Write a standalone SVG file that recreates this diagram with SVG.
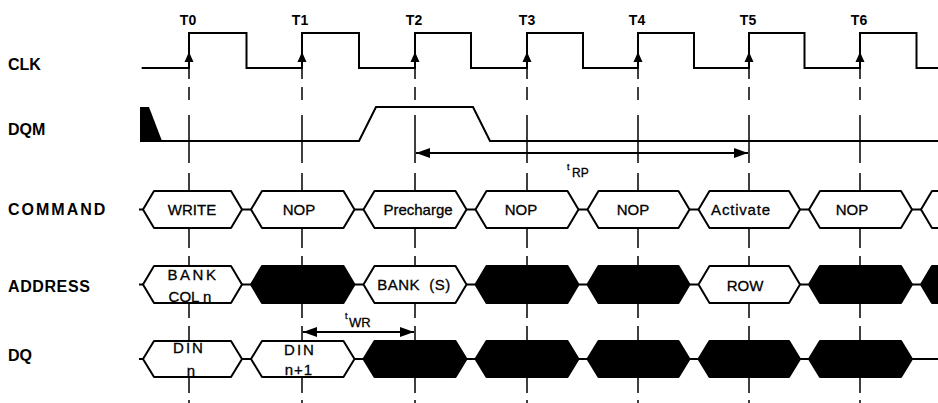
<svg xmlns="http://www.w3.org/2000/svg" xmlns:xlink="http://www.w3.org/1999/xlink" width="938" height="403" viewBox="0 0 938 403">
<style>
.lbl{font-family:"Liberation Sans",Arial,sans-serif;font-weight:bold;font-size:16px;fill:#000}
.tl{font-family:"Liberation Sans",Arial,sans-serif;font-weight:bold;font-size:14px;fill:#000;text-anchor:middle}
.tx{font-family:"Liberation Sans",Arial,sans-serif;font-size:15px;fill:#000;stroke:#000;stroke-width:0.3;text-anchor:middle}
.sm{font-family:"Liberation Sans",Arial,sans-serif;fill:#000;stroke:#000;stroke-width:0.3}
.sig{fill:none;stroke:#000;stroke-width:2}
.hex{fill:#fff;stroke:#000;stroke-width:2;stroke-linejoin:round}
.blk{fill:#000;stroke:#000;stroke-width:2;stroke-linejoin:round}
.grid{fill:none;stroke:#000;stroke-width:1.5}
.arr{fill:none;stroke:#000;stroke-width:1.8}
</style>
<defs>
<path id="vline" class="grid" d="M0,68V79M0,87V100M0,115V163M0,173V191M0,228V248M0,256V266M0,303V318M0,326V341M0,377V393M0,400V403"/>
<polygon id="edge" points="0,52 -4.5,62 4.5,62" fill="#000"/>
<marker id="ah" viewBox="0 0 14 10" refX="14" refY="5" markerWidth="14" markerHeight="10" markerUnits="userSpaceOnUse" orient="auto-start-reverse">
<path d="M0,0L14,5L0,10z" fill="#000"/>
</marker>
</defs>
<rect width="938" height="403" fill="#fff"/>

<g id="labels">
<text class="lbl" x="8" y="70">CLK</text>
<text class="lbl" x="8" y="135">DQM</text>
<text class="lbl" x="8" y="215" letter-spacing="2">COMMAND</text>
<text class="lbl" x="8" y="292" letter-spacing="0.6">ADDRESS</text>
<text class="lbl" x="8" y="361">DQ</text>
<text class="tl" x="188" y="25">T0</text>
<text class="tl" x="300" y="25">T1</text>
<text class="tl" x="414" y="25">T2</text>
<text class="tl" x="527" y="25">T3</text>
<text class="tl" x="637" y="25">T4</text>
<text class="tl" x="748" y="25">T5</text>
<text class="tl" x="859" y="25">T6</text>
</g>

<g id="grid">
<use xlink:href="#vline" x="189"/>
<use xlink:href="#vline" x="302"/>
<use xlink:href="#vline" x="415"/>
<use xlink:href="#vline" x="527"/>
<use xlink:href="#vline" x="638"/>
<use xlink:href="#vline" x="749"/>
<use xlink:href="#vline" x="860"/>
</g>

<g id="clk">
<path class="sig" d="M141.7,68H189V33H246.5V68H302V33H359V68H415V33H471V68H527V33H583V68H638V33H694V68H749V33H804.5V68H860V33H916.5V68H938"/>
<use xlink:href="#edge" x="189"/>
<use xlink:href="#edge" x="302"/>
<use xlink:href="#edge" x="415"/>
<use xlink:href="#edge" x="527"/>
<use xlink:href="#edge" x="638"/>
<use xlink:href="#edge" x="749"/>
<use xlink:href="#edge" x="860"/>
</g>

<g id="dqm">
<polygon points="140,107 149,107 162,141 140,141" fill="#000"/>
<path class="sig" d="M140,141H359L376,107H473L490,141H938"/>
</g>

<g id="command">
<path class="sig" d="M139,209.5H143M242,209.5H251M354.5,209.5H363.5M466.5,209.5H475.5M578.5,209.5H587.5M689.5,209.5H698.5M800,209.5H809M912,209.5H921"/>
<g id="cmd-write"><polygon class="hex" points="143,209.5 154,191 231,191 242,209.5 231,228 154,228"/><text class="tx" x="192" y="215">WRITE</text></g>
<g id="cmd-nop1"><polygon class="hex" points="251,209.5 262,191 343.5,191 354.5,209.5 343.5,228 262,228"/><text class="tx" x="299" y="215">NOP</text></g>
<g id="cmd-precharge"><polygon class="hex" points="363.5,209.5 374.5,191 455.5,191 466.5,209.5 455.5,228 374.5,228"/><text class="tx" x="418" y="215">Precharge</text></g>
<g id="cmd-nop3"><polygon class="hex" points="475.5,209.5 486.5,191 567.5,191 578.5,209.5 567.5,228 486.5,228"/><text class="tx" x="521" y="215">NOP</text></g>
<g id="cmd-nop4"><polygon class="hex" points="587.5,209.5 598.5,191 678.5,191 689.5,209.5 678.5,228 598.5,228"/><text class="tx" x="633" y="215">NOP</text></g>
<g id="cmd-activate"><polygon class="hex" points="698.5,209.5 709.5,191 789,191 800,209.5 789,228 709.5,228"/><text class="tx" x="741" y="215" letter-spacing="0.8">Activate</text></g>
<g id="cmd-nop6"><polygon class="hex" points="809,209.5 820,191 901,191 912,209.5 901,228 820,228"/><text class="tx" x="852" y="215">NOP</text></g>
<g id="cmd-next"><polygon class="hex" points="921,209.5 932,191 950,191 950,228 932,228"/></g>
</g>

<g id="address">
<path class="sig" d="M139,284.5H143M242,284.5H251M354.5,284.5H363.5M466.5,284.5H475.5M578.5,284.5H587.5M689.5,284.5H698.5M800,284.5H809M912,284.5H921"/>
<g id="addr-bank-col"><polygon class="hex" points="143,284.5 154,266 231,266 242,284.5 231,303 154,303"/><text class="tx" x="193" y="280" letter-spacing="2.5">BANK</text><text class="tx" x="190" y="302">COL n</text></g>
<g id="addr-x1"><polygon class="blk" points="251,284.5 262,266 343.5,266 354.5,284.5 343.5,303 262,303"/></g>
<g id="addr-bank-s"><polygon class="hex" points="363.5,284.5 374.5,266 455.5,266 466.5,284.5 455.5,303 374.5,303"/><text class="tx" x="414" y="290" letter-spacing="0.5" xml:space="preserve">BANK  (S)</text></g>
<g id="addr-x3"><polygon class="blk" points="475.5,284.5 486.5,266 567.5,266 578.5,284.5 567.5,303 486.5,303"/></g>
<g id="addr-x4"><polygon class="blk" points="587.5,284.5 598.5,266 678.5,266 689.5,284.5 678.5,303 598.5,303"/></g>
<g id="addr-row"><polygon class="hex" points="698.5,284.5 709.5,266 789,266 800,284.5 789,303 709.5,303"/><text class="tx" x="745" y="291">ROW</text></g>
<g id="addr-x6"><polygon class="blk" points="809,284.5 820,266 901,266 912,284.5 901,303 820,303"/></g>
<g id="addr-x7"><polygon class="blk" points="921,284.5 932,266 950,266 950,303 932,303"/></g>
</g>

<g id="dq">
<path class="sig" d="M139,359H143M242,359H251M354.5,359H363.5M466.5,359H475.5M578.5,359H587.5M689.5,359H698.5M800,359H809M912,359H938"/>
<g id="dq-din-n"><polygon class="hex" points="143,359 154,341 231,341 242,359 231,377 154,377"/><text class="tx" x="189" y="353" letter-spacing="2">DIN</text><text class="tx" x="191" y="376">n</text></g>
<g id="dq-din-n1"><polygon class="hex" points="251,359 262,341 343.5,341 354.5,359 343.5,377 262,377"/><text class="tx" x="300" y="355" letter-spacing="2">DIN</text><text class="tx" x="299" y="375" letter-spacing="1">n+1</text></g>
<g id="dq-x2"><polygon class="blk" points="363.5,359 374.5,341 455.5,341 466.5,359 455.5,377 374.5,377"/></g>
<g id="dq-x3"><polygon class="blk" points="475.5,359 486.5,341 567.5,341 578.5,359 567.5,377 486.5,377"/></g>
<g id="dq-x4"><polygon class="blk" points="587.5,359 598.5,341 678.5,341 689.5,359 678.5,377 598.5,377"/></g>
<g id="dq-x5"><polygon class="blk" points="698.5,359 709.5,341 789,341 800,359 789,377 709.5,377"/></g>
<g id="dq-x6"><polygon class="blk" points="809,359 820,341 901,341 912,359 901,377 820,377"/></g>
</g>

<g id="connectors">
<path class="arr" d="M416,153H748" marker-start="url(#ah)" marker-end="url(#ah)"/>
<path class="arr" d="M303,332H414" marker-start="url(#ah)" marker-end="url(#ah)"/>
<text class="sm" x="567" y="170" font-size="9">t</text>
<text class="sm" x="572" y="177" font-size="12">RP</text>
<text class="sm" x="345" y="319" font-size="9">t</text>
<text class="sm" x="349" y="327" font-size="13">WR</text>
</g>
</svg>
